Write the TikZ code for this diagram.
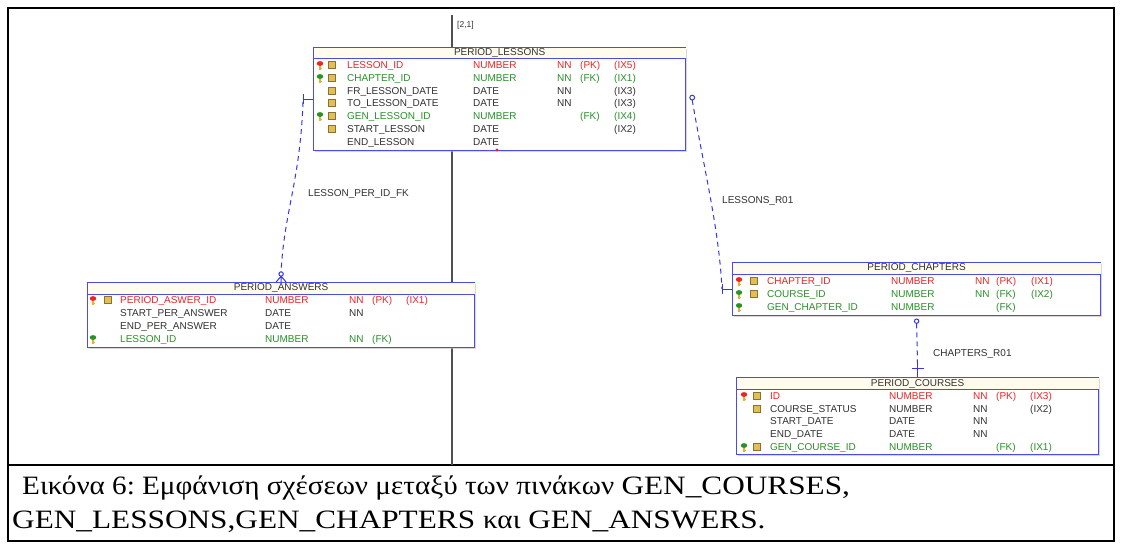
\documentclass[tikz,border=0pt]{standalone}
\usepackage{fontspec}
\setmainfont{Liberation Serif}
\newfontfamily\capfontg[FakeStretch=1.1]{Liberation Serif}
\newfontfamily\capfontb[FakeStretch=1.18]{Liberation Serif}
\newfontfamily\erfont{Liberation Sans}
\usetikzlibrary{shadows}

\definecolor{erblue}{RGB}{75,75,235}
\definecolor{relblue}{RGB}{55,55,230}
\definecolor{erred}{RGB}{240,35,35}
\definecolor{ergreen}{RGB}{40,145,40}
\definecolor{ertext}{RGB}{50,50,50}
\definecolor{ertitle}{RGB}{255,252,238}
\definecolor{keygold}{RGB}{232,178,40}
\definecolor{colgold}{RGB}{226,190,85}
\definecolor{axisgray}{RGB}{80,80,80}

% key and column icons
\newcommand{\erkey}[3]{%
  \fill[keygold] (#1-0.9,#2) rectangle (#1+0.9,#2+5);
  \fill[keygold] (#1+0.9,#2+3) rectangle (#1+2.4,#2+4.2);
  \fill[#3] (#1,#2-1.5) ellipse (3.2pt and 2.4pt);
}
\newcommand{\ercol}[2]{%
  \filldraw[fill=colgold, draw=colgold!60!black, line width=0.4pt] (#1-3.6,#2-3.6) rectangle (#1+3.6,#2+3.6);
}

\tikzset{
  tablebox/.style={draw=erblue, line width=1.2pt, fill=white, inner sep=0pt, anchor=north west,
    drop shadow={shadow xshift=1.5pt, shadow yshift=-1.5pt, fill=black!25, opacity=.6}},
  titletext/.style={font=\erfont\fontsize{10}{11}\selectfont, text=ertext, inner sep=0pt},
  coltext/.style={font=\erfont\fontsize{10}{11}\selectfont, anchor=base west, inner sep=0pt},
  reltext/.style={font=\erfont\fontsize{10}{11}\selectfont, text=ertext, anchor=base west, inner sep=0pt},
  captext/.style={font=\capfontb\fontsize{26.5}{30}\selectfont\frenchspacing, anchor=base west, inner sep=0pt},
  reldash/.style={relblue, line width=1pt, dash pattern=on 5pt off 4pt},
  relsolid/.style={relblue, line width=1pt},
}

\begin{document}
\begin{tikzpicture}[x=1pt,y=-1pt]
  \useasboundingbox (0,0) rectangle (1123,548);
  \fill[white] (0,0) rectangle (1123,548);

  % frame and caption rule
  \draw[line width=2pt] (8,8) rectangle (1114,541);
  \draw[line width=2pt] (8,465) -- (1114,465);

  % page split line
  \draw[axisgray, line width=1.5pt] (452,15) -- (452,465);
  \node[reltext, font=\erfont\fontsize{8.5}{9}\selectfont] (split-label) at (457,28) {[2,1]};

  % PERIOD_LESSONS
  \node[tablebox, minimum width=372pt, minimum height=103pt] (lessons) at (313,47) {};
  \fill[ertitle] ([shift={(0.6pt,-0.6pt)}]lessons.north west) rectangle ([shift={(-0.6pt,-12pt)}]lessons.north east);
  \draw[erblue, line width=1pt] ([yshift=-12pt]lessons.north west) -- ([yshift=-12pt]lessons.north east);
  \node[titletext] (lessons-title) at ([yshift=-6.5pt]lessons.north) {PERIOD\_LESSONS};
  \foreach \yy/\cc/\nm/\ty/\nn/\pk/\ix in {
      65/erred/LESSON\_ID/NUMBER/NN/(PK)/(IX5),
      78/ergreen/CHAPTER\_ID/NUMBER/NN/(FK)/(IX1),
      91/ertext/FR\_LESSON\_DATE/DATE/NN/{}/(IX3),
      103/ertext/TO\_LESSON\_DATE/DATE/NN/{}/(IX3),
      116/ergreen/GEN\_LESSON\_ID/NUMBER/{}/(FK)/(IX4),
      129/ertext/START\_LESSON/DATE/{}/{}/(IX2),
      142/ertext/END\_LESSON/DATE/{}/{}/{}} {
    \node[coltext, text=\cc] (ls-name\yy) at (347,\yy+3.5) {\nm};
    \node[coltext, text=\cc] (ls-type\yy) at (473,\yy+3.5) {\ty};
    \node[coltext, text=\cc] (ls-nn\yy) at (557,\yy+3.5) {\nn};
    \node[coltext, text=\cc] (ls-pk\yy) at (580,\yy+3.5) {\pk};
    \node[coltext, text=\cc] (ls-ix\yy) at (614,\yy+3.5) {\ix};
  }
  \foreach \yy in {65,78,91,103,116,129} \ercol{332}{\yy};
  \erkey{320}{65}{erred}
  \foreach \yy in {78,116} \erkey{320}{\yy}{ergreen};
  \fill[erred] (497,150) circle (1.6pt);

  % PERIOD_ANSWERS
  \node[tablebox, minimum width=387pt, minimum height=65pt] (answers) at (87,282) {};
  \fill[ertitle] ([shift={(0.6pt,-0.6pt)}]answers.north west) rectangle ([shift={(-0.6pt,-12pt)}]answers.north east);
  \draw[erblue, line width=1pt] ([yshift=-12pt]answers.north west) -- ([yshift=-12pt]answers.north east);
  \node[titletext] (answers-title) at ([yshift=-6.5pt]answers.north) {PERIOD\_ANSWERS};
  \foreach \yy/\cc/\nm/\ty/\nn/\pk/\ix in {
      300/erred/PERIOD\_ASWER\_ID/NUMBER/NN/(PK)/(IX1),
      313/ertext/START\_PER\_ANSWER/DATE/NN/{}/{},
      326/ertext/END\_PER\_ANSWER/DATE/{}/{}/{},
      339/ergreen/LESSON\_ID/NUMBER/NN/(FK)/{}} {
    \node[coltext, text=\cc] (an-name\yy) at (120,\yy+3.5) {\nm};
    \node[coltext, text=\cc] (an-type\yy) at (265,\yy+3.5) {\ty};
    \node[coltext, text=\cc] (an-nn\yy) at (349,\yy+3.5) {\nn};
    \node[coltext, text=\cc] (an-pk\yy) at (372,\yy+3.5) {\pk};
    \node[coltext, text=\cc] (an-ix\yy) at (406,\yy+3.5) {\ix};
  }
  \ercol{108}{300}
  \erkey{93}{300}{erred}
  \erkey{93}{339}{ergreen}

  % PERIOD_CHAPTERS
  \node[tablebox, minimum width=368pt, minimum height=53pt] (chapters) at (732,262) {};
  \fill[ertitle] ([shift={(0.6pt,-0.6pt)}]chapters.north west) rectangle ([shift={(-0.6pt,-12pt)}]chapters.north east);
  \draw[erblue, line width=1pt] ([yshift=-12pt]chapters.north west) -- ([yshift=-12pt]chapters.north east);
  \node[titletext] (chapters-title) at ([yshift=-6.5pt]chapters.north) {PERIOD\_CHAPTERS};
  \foreach \yy/\cc/\nm/\ty/\nn/\pk/\ix in {
      281/erred/CHAPTER\_ID/NUMBER/NN/(PK)/(IX1),
      294/ergreen/COURSE\_ID/NUMBER/NN/(FK)/(IX2),
      307/ergreen/GEN\_CHAPTER\_ID/NUMBER/{}/(FK)/{}} {
    \node[coltext, text=\cc] (ch-name\yy) at (767,\yy+3.5) {\nm};
    \node[coltext, text=\cc] (ch-type\yy) at (891,\yy+3.5) {\ty};
    \node[coltext, text=\cc] (ch-nn\yy) at (975,\yy+3.5) {\nn};
    \node[coltext, text=\cc] (ch-pk\yy) at (996,\yy+3.5) {\pk};
    \node[coltext, text=\cc] (ch-ix\yy) at (1031,\yy+3.5) {\ix};
  }
  \foreach \yy in {281,294} \ercol{754}{\yy};
  \erkey{739}{281}{erred}
  \foreach \yy in {294,307} \erkey{739}{\yy}{ergreen};

  % PERIOD_COURSES
  \node[tablebox, minimum width=362pt, minimum height=77pt] (courses) at (736,377) {};
  \fill[ertitle] ([shift={(0.6pt,-0.6pt)}]courses.north west) rectangle ([shift={(-0.6pt,-12pt)}]courses.north east);
  \draw[erblue, line width=1pt] ([yshift=-12pt]courses.north west) -- ([yshift=-12pt]courses.north east);
  \node[titletext] (courses-title) at ([yshift=-6.5pt]courses.north) {PERIOD\_COURSES};
  \foreach \yy/\cc/\nm/\ty/\nn/\pk/\ix in {
      396/erred/ID/NUMBER/NN/(PK)/(IX3),
      409/ertext/COURSE\_STATUS/NUMBER/NN/{}/(IX2),
      421/ertext/START\_DATE/DATE/NN/{}/{},
      434/ertext/END\_DATE/DATE/NN/{}/{},
      447/ergreen/GEN\_COURSE\_ID/NUMBER/{}/(FK)/(IX1)} {
    \node[coltext, text=\cc] (co-name\yy) at (770,\yy+3.5) {\nm};
    \node[coltext, text=\cc] (co-type\yy) at (889,\yy+3.5) {\ty};
    \node[coltext, text=\cc] (co-nn\yy) at (973,\yy+3.5) {\nn};
    \node[coltext, text=\cc] (co-pk\yy) at (996,\yy+3.5) {\pk};
    \node[coltext, text=\cc] (co-ix\yy) at (1030,\yy+3.5) {\ix};
  }
  \foreach \yy in {396,409,447} \ercol{757}{\yy};
  \erkey{744}{396}{erred}
  \erkey{744}{447}{ergreen}

  % LESSON_PER_ID_FK
  \coordinate (lpf-one) at ([xshift=-10pt]lessons.west);
  \coordinate (lpf-ring) at ([yshift=8pt]answers.north);
  \draw[relsolid] (lessons.west) -- (lpf-one);
  \draw[relsolid] ([yshift=5pt]lpf-one) -- ([yshift=-5pt]lpf-one);
  \draw[reldash] ([yshift=-3pt]lpf-one) .. controls +(-3,80) and +(3,-60) .. ([yshift=2.2pt]lpf-ring);
  \draw[relsolid] (lpf-ring) circle (2.2pt);
  \draw[relsolid] ([yshift=-2.2pt]lpf-ring) -- ([xshift=-5pt]answers.north)
                  ([yshift=-2.2pt]lpf-ring) -- (answers.north)
                  ([yshift=-2.2pt]lpf-ring) -- ([xshift=5pt]answers.north);
  \node[reltext] (lpf-label) at (308,196) {LESSON\_PER\_ID\_FK};

  % LESSONS_R01
  \coordinate (lr-ring) at ([shift={(6pt,1.5pt)}]lessons.east);
  \coordinate (lr-one) at ([xshift=-10pt]chapters.west);
  \draw[relsolid] (lr-ring) circle (2.4pt);
  \draw[reldash] ([yshift=-2.4pt]lr-ring) .. controls +(12,70) and +(-3,-60) .. (lr-one);
  \draw[relsolid] (lr-one) -- (chapters.west);
  \draw[relsolid] ([yshift=5pt]lr-one) -- ([yshift=-5pt]lr-one);
  \node[reltext] (lr-label) at (722,203) {LESSONS\_R01};

  % CHAPTERS_R01
  \coordinate (cr-ring) at ([yshift=-5pt]chapters.south);
  \coordinate (cr-one) at ([yshift=9pt]courses.north);
  \draw[relsolid] (cr-ring) circle (2.2pt);
  \draw[reldash] ([yshift=-2.2pt]cr-ring) -- (cr-one);
  \draw[relsolid] ([yshift=7pt]cr-one) -- (courses.north);
  \draw[relsolid] ([xshift=-6pt]cr-one) -- ([xshift=6pt]cr-one);
  \node[reltext] (cr-label) at (933,356) {CHAPTERS\_R01};

  % caption
  \node[captext] (cap-a) at (22,494) {{\capfontg Εικόνα 6: Εμφάνιση σχέσεων μεταξύ των πινάκων }GEN\_COURSES,};
  \node[captext] (cap-b) at (12,528) {GEN\_LESSONS,GEN\_CHAPTERS {\capfontg και} GEN\_ANSWERS.};
\end{tikzpicture}
\end{document}
